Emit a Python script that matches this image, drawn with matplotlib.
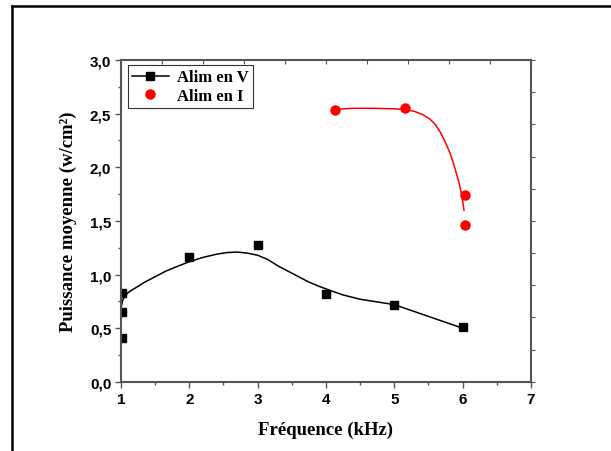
import matplotlib.pyplot as plt
from matplotlib.lines import Line2D
from matplotlib.ticker import FuncFormatter, MultipleLocator

# --- Data ---
freq_v = [1.02, 1.02, 1.02, 2.0, 3.0, 4.0, 5.0, 6.0]
power_v = [0.83, 0.65, 0.41, 1.16, 1.28, 0.82, 0.72, 0.51]

freq_i = [4.13, 5.16, 6.03, 6.03]
power_i = [2.53, 2.55, 1.74, 1.46]

# fitted curves
fit_v_x = [1.005, 1.02, 1.04, 1.07, 1.11, 1.17, 1.25, 1.35, 1.5, 1.65, 1.8, 2.0,
           2.2, 2.4, 2.55, 2.7, 2.85, 3.0, 3.15, 3.3, 3.45, 3.6, 3.75, 3.9,
           4.05, 4.25, 4.5, 4.75, 5.0, 5.25, 5.5, 5.75, 6.0]
fit_v_y = [0.70, 0.75, 0.78, 0.81, 0.835, 0.86, 0.89, 0.93, 0.98, 1.03, 1.07, 1.12,
           1.16, 1.19, 1.205, 1.21, 1.20, 1.18, 1.14, 1.08, 1.03, 0.98, 0.93, 0.89,
           0.855, 0.81, 0.77, 0.745, 0.72, 0.665, 0.61, 0.555, 0.50]
fit_i_x = [4.13, 4.4, 4.7, 5.0, 5.16, 5.3, 5.42, 5.52, 5.6, 5.68, 5.75, 5.81,
           5.86, 5.91, 5.95, 5.98, 6.0, 6.02]
fit_i_y = [2.54, 2.55, 2.55, 2.545, 2.54, 2.52, 2.49, 2.45, 2.40, 2.32, 2.23, 2.14,
           2.05, 1.94, 1.85, 1.76, 1.69, 1.60]

SERIF = "Liberation Serif"
SANS = "Liberation Sans"

fig = plt.figure(figsize=(6.11, 4.52), dpi=100)
ax = fig.add_axes([0.198, 0.153, 0.671, 0.712])

ax.plot(fit_v_x, fit_v_y, color="black", lw=1.1, solid_joinstyle="round")
ax.plot(fit_i_x, fit_i_y, color="red", lw=1.1, solid_joinstyle="round")
ax.plot(freq_v, power_v, ls="none", marker="s", ms=5.8, color="black")
ax.plot(freq_i, power_i, ls="none", marker="o", ms=6.5, color="red")

ax.set_xlim(1, 7)
ax.set_ylim(0, 3.0)
ax.xaxis.set_major_locator(MultipleLocator(1))
ax.xaxis.set_minor_locator(MultipleLocator(0.5))
ax.yaxis.set_major_locator(MultipleLocator(0.5))
ax.yaxis.set_minor_locator(MultipleLocator(0.25))
ax.yaxis.set_major_formatter(FuncFormatter(lambda v, p: f"{v:.1f}".replace(".", ",")))

for s in ax.spines.values():
    s.set_color("#555555")
    s.set_linewidth(1.5)
ax.tick_params(which="major", direction="out", length=4, width=1, color="#555555",
               labelsize=11, pad=3)
ax.tick_params(which="minor", direction="out", length=2.5, width=1, color="#555555")
for lab in ax.get_xticklabels() + ax.get_yticklabels():
    lab.set_fontfamily(SANS)
    lab.set_fontweight("bold")

# top / right axes with 10 divisions, no labels
ax_top = ax.twiny()
ax_top.set_xlim(0, 10)
ax_top.xaxis.set_major_locator(MultipleLocator(1))
ax_top.tick_params(axis="x", direction="in", length=3, color="#555555", labeltop=False)
ax_right = ax.twinx()
ax_right.set_ylim(0, 10)
ax_right.yaxis.set_major_locator(MultipleLocator(1))
ax_right.tick_params(axis="y", direction="out", length=3, color="#555555", labelright=False)
for a in (ax_top, ax_right):
    for s in a.spines.values():
        s.set_visible(False)

ax.set_xlabel("Fréquence (kHz)", fontfamily=SERIF, fontweight="bold", fontsize=13.5,
              labelpad=11)
ax.set_ylabel("Puissance moyenne (w/cm²)", fontfamily=SERIF,
              fontweight="bold", fontsize=13.5, labelpad=9)

handles = [
    Line2D([], [], color="black", lw=1.1, marker="s", ms=5.8),
    Line2D([], [], ls="none", color="red", marker="o", ms=6.5),
]
leg = ax.legend(handles, ["Alim en V", "Alim en I"], loc="upper left",
                bbox_to_anchor=(0.017, 0.984), borderaxespad=0, fancybox=False,
                edgecolor="#333333", framealpha=1, handlelength=2.2, borderpad=0.25,
                labelspacing=0.15, handletextpad=0.5,
                prop={"family": SERIF, "weight": "bold", "size": 12})
leg.get_frame().set_linewidth(0.8)

# outer frame lines (top and left only)
fig.add_artist(Line2D([12 / 611, 1.0], [1 - 7 / 452, 1 - 7 / 452],
                      transform=fig.transFigure, color="black", lw=1.8))
fig.add_artist(Line2D([12 / 611, 12 / 611], [0.0, 1 - 7 / 452],
                      transform=fig.transFigure, color="black", lw=1.8))

fig.savefig("out.png", dpi=100)
